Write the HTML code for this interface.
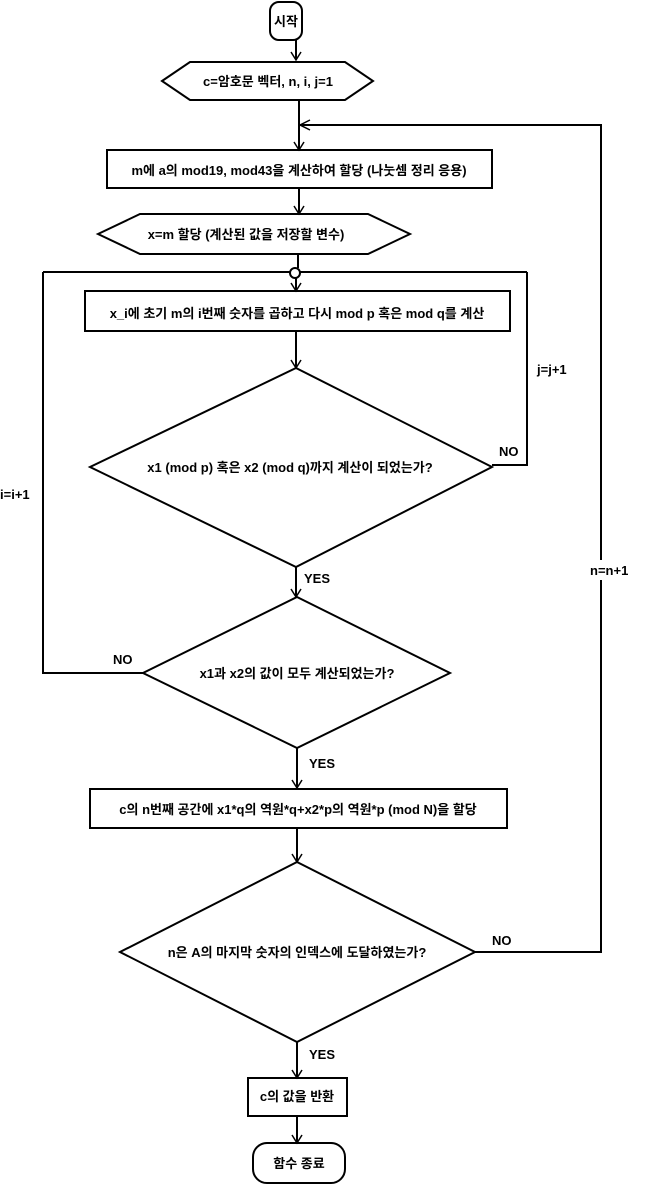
<!DOCTYPE html>
<html><head><meta charset="utf-8"><style>
html,body{margin:0;padding:0;background:#fff;}
svg{display:block;}
text{font-family:"Liberation Sans","Noto Sans CJK KR","NanumGothic",sans-serif;font-size:13px;font-weight:bold;fill:#000;}
</style></head><body>
<svg width="665" height="1186" viewBox="0 0 665 1186" xmlns="http://www.w3.org/2000/svg">
<g fill="none" stroke="#000" stroke-width="2">
<rect x="270" y="2" width="32" height="38" rx="9"/>
<line x1="296" y1="40" x2="296" y2="60"/>
<polyline points="291,52 296,60 301,52" stroke-width="1.5"/>
<polygon points="162,81 190,62 345,62 373,81 345,100 190,100"/>
<line x1="299" y1="100" x2="299" y2="150"/>
<polyline points="294,142 299,150 304,142" stroke-width="1.5"/>
<polyline points="475,952 601,952 601,125 300,125"/>
<polyline points="310,120 300,125 310,130" stroke-width="1.5"/>
<rect x="107" y="150" width="385" height="38"/>
<line x1="299" y1="188" x2="299" y2="214"/>
<polyline points="294,206 299,214 304,206" stroke-width="1.5"/>
<polygon points="98,234 140,214 368,214 410,234 368,254 140,254"/>
<line x1="298" y1="254" x2="298" y2="268"/>
<line x1="43" y1="272" x2="290" y2="272"/>
<line x1="300" y1="272" x2="527" y2="272"/>
<circle cx="295" cy="273" r="5"/>
<line x1="296" y1="278" x2="296" y2="291"/>
<polyline points="291,283 296,291 301,283" stroke-width="1.5"/>
<rect x="85" y="291" width="425" height="40"/>
<line x1="296" y1="331" x2="296" y2="368"/>
<polyline points="291,360 296,368 301,360" stroke-width="1.5"/>
<polygon points="296,368 492,467 296,567 90,467"/>
<polyline points="492,465 527,465 527,272"/>
<line x1="296" y1="567" x2="296" y2="597"/>
<polyline points="291,589 296,597 301,589" stroke-width="1.5"/>
<polygon points="297,597 450,673 297,748 143,673"/>
<polyline points="143,673 43,673 43,272"/>
<line x1="297" y1="748" x2="297" y2="788"/>
<polyline points="292,780 297,788 302,780" stroke-width="1.5"/>
<rect x="90" y="789" width="417" height="39"/>
<line x1="297" y1="828" x2="297" y2="862"/>
<polyline points="292,854 297,862 302,854" stroke-width="1.5"/>
<polygon points="297,862 475,952 297,1042 120,952"/>
<line x1="297" y1="1042" x2="297" y2="1078"/>
<polyline points="292,1070 297,1078 302,1070" stroke-width="1.5"/>
<rect x="248" y="1078" width="99" height="38"/>
<line x1="297" y1="1116" x2="297" y2="1143"/>
<polyline points="292,1135 297,1143 302,1135" stroke-width="1.5"/>
<rect x="253" y="1143" width="92" height="40" rx="14"/>
</g>
<rect x="588" y="560" width="50" height="20" fill="#fff"/>
<g text-anchor="middle">
<text x="286" y="26">시작</text>
<text x="268" y="86">c=암호문 벡터, n, i, j=1</text>
<text x="299" y="175">m에 a의 mod19, mod43을 계산하여 할당 (나눗셈 정리 응용)</text>
<text x="246" y="239">x=m 할당 (계산된 값을 저장할 변수)</text>
<text x="297" y="318">x_i에 초기 m의 i번째 숫자를 곱하고 다시 mod p 혹은 mod q를 계산</text>
<text x="290" y="472">x1 (mod p) 혹은 x2 (mod q)까지 계산이 되었는가?</text>
<text x="297" y="678">x1과 x2의 값이 모두 계산되었는가?</text>
<text x="298" y="814">c의 n번째 공간에 x1*q의 역원*q+x2*p의 역원*p (mod N)을 할당</text>
<text x="297" y="957">n은 A의 마지막 숫자의 인덱스에 도달하였는가?</text>
<text x="297" y="1101">c의 값을 반환</text>
<text x="299" y="1168">함수 종료</text>
</g>
<text x="537" y="374">j=j+1</text>
<text x="499" y="456">NO</text>
<text x="0" y="499">i=i+1</text>
<text x="113" y="664">NO</text>
<text x="304" y="583">YES</text>
<text x="309" y="768">YES</text>
<text x="590" y="575">n=n+1</text>
<text x="492" y="945">NO</text>
<text x="309" y="1059">YES</text>
</svg>
</body></html>
